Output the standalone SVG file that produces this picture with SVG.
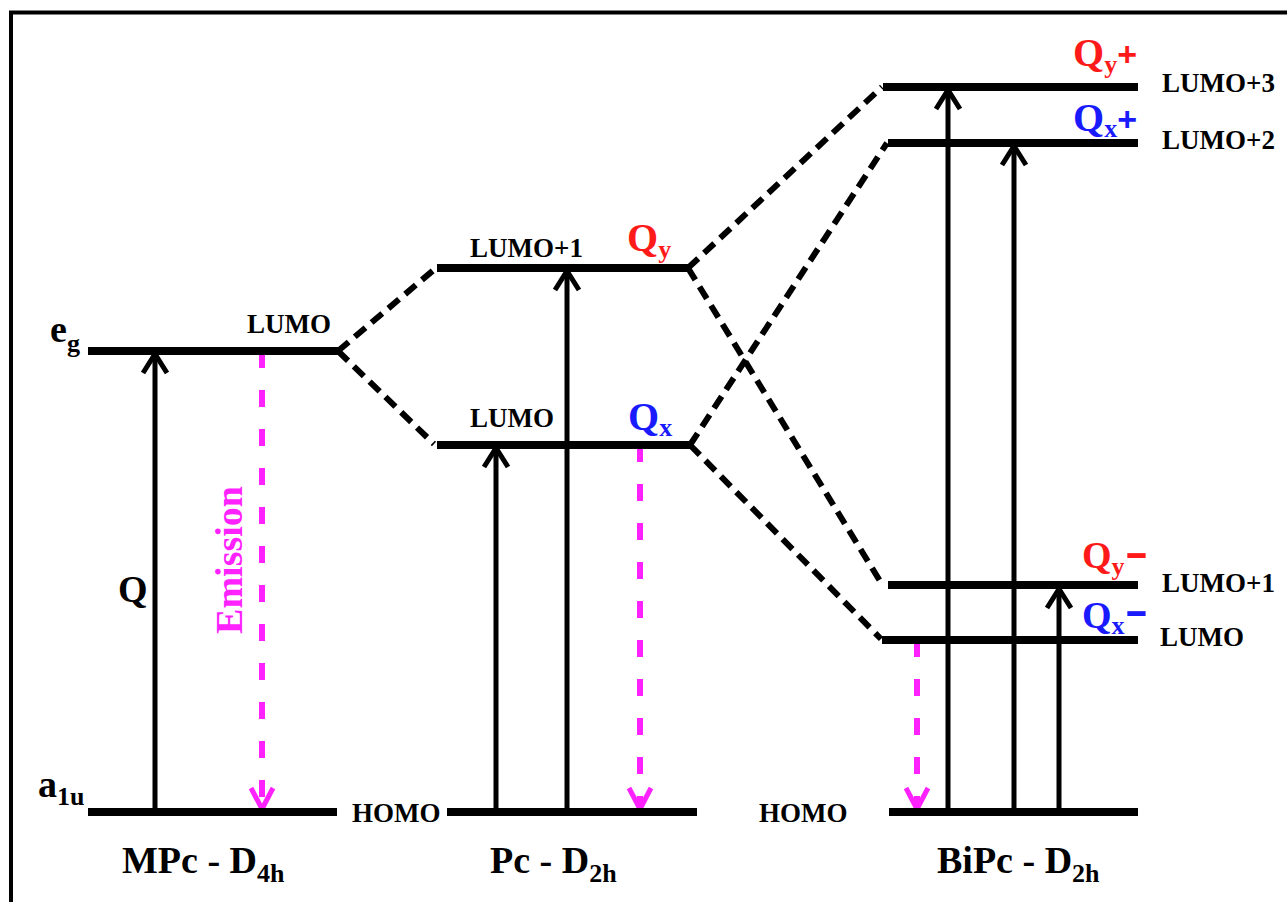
<svg xmlns="http://www.w3.org/2000/svg" width="1287" height="902" viewBox="0 0 1287 902">
<style>
.t{font-family:"Liberation Serif","Times New Roman",serif;font-weight:bold;fill:#000}
.s{font-size:27px}
.big{font-size:38px}
.q{font-size:40px}
.sub{font-size:26px}
.red{fill:#ff1a1a}
.blue{fill:#1a1aff}
.mag{fill:#ff22ff}
.lvl{stroke:#000;stroke-width:8;fill:none}
.dash{stroke:#000;stroke-width:6;stroke-dasharray:14 8;fill:none}
.arr{stroke:#000;stroke-width:5;fill:none;marker-end:url(#ah)}
.em{stroke:#ff22ff;stroke-width:6;stroke-dasharray:17 22;fill:none;marker-end:url(#mh)}
.dsh{font-family:"Liberation Sans",Arial,sans-serif;font-weight:bold}
</style>
<defs>
<marker id="ah" markerUnits="userSpaceOnUse" markerWidth="50" markerHeight="50" viewBox="-25 -25 50 50" refX="0" refY="0" orient="auto" overflow="visible">
<path d="M-20,-12 L-1,0 L-20,12" fill="none" stroke="#000" stroke-width="5"/>
</marker>
<marker id="mh" markerUnits="userSpaceOnUse" markerWidth="50" markerHeight="50" viewBox="-25 -25 50 50" refX="0" refY="0" orient="auto" overflow="visible">
<path d="M-22,-11 L-1,0 L-22,11" fill="none" stroke="#ff22ff" stroke-width="5"/>
</marker>
</defs>
<rect x="0" y="0" width="1287" height="902" fill="#fff"/>
<path d="M11,902 V12.5 H1287" fill="none" stroke="#000" stroke-width="4"/>

<g id="connectors">
<path class="dash" d="M338,351 L436,268"/>
<path class="dash" d="M338,351 L434,444"/>
<path class="dash" d="M688,268 L882,87"/>
<path class="dash" d="M690,445 L887,143"/>
<path class="dash" d="M688,268 L880,581"/>
<path class="dash" d="M690,445 L881,639"/>
<line class="arr" x1="155" y1="812" x2="155" y2="353"/>
<line class="em" x1="262" y1="351" x2="262" y2="810"/>
<line class="arr" x1="496" y1="812" x2="496" y2="447"/>
<line class="arr" x1="567" y1="812" x2="567" y2="270"/>
<line class="em" x1="640" y1="445" x2="640" y2="810"/>
<line class="arr" x1="948" y1="812" x2="948" y2="89"/>
<line class="arr" x1="1014" y1="812" x2="1014" y2="145"/>
<line class="arr" x1="1059" y1="812" x2="1059" y2="588"/>
<line class="em" x1="917" y1="640" x2="917" y2="810"/>
</g>

<g id="mpc-eg">
<line class="lvl" x1="88" y1="351" x2="338" y2="351"/>
<text class="t big" x="50" y="342">e<tspan class="sub" dy="10">g</tspan></text>
<text class="t s" x="247" y="333">LUMO</text>
</g>
<g id="mpc-a1u">
<line class="lvl" x1="88" y1="812" x2="337" y2="812"/>
<text class="t big" x="38" y="797">a<tspan class="sub" dy="8">1u</tspan></text>
</g>
<g id="mpc-labels">
<text class="t big" x="118" y="602">Q</text>
<text class="t big mag" transform="translate(242,560) rotate(-90)" text-anchor="middle">Emission</text>
<text class="t big" x="122" y="873">MPc - D<tspan class="sub" dy="9">4h</tspan></text>
</g>

<g id="pc-lumo1">
<line class="lvl" x1="437" y1="268" x2="688" y2="268"/>
<text class="t s" x="470" y="257">LUMO+1</text>
<text class="t q red" x="627" y="251">Q<tspan class="sub" dy="7">y</tspan></text>
</g>
<g id="pc-lumo">
<line class="lvl" x1="437" y1="445" x2="690" y2="445"/>
<text class="t s" x="470" y="427">LUMO</text>
<text class="t q blue" x="628" y="430">Q<tspan class="sub" dy="6">x</tspan></text>
</g>
<g id="pc-homo">
<line class="lvl" x1="447" y1="812" x2="697" y2="812"/>
<text class="t s" x="352" y="822">HOMO</text>
<text class="t big" x="490" y="873">Pc - D<tspan class="sub" dy="9">2h</tspan></text>
</g>

<g id="bipc-lumo3">
<line class="lvl" x1="883" y1="87" x2="1138" y2="87"/>
<text class="t s" x="1162" y="92">LUMO+3</text>
<text class="t q red" x="1073" y="66">Q<tspan class="sub" dy="7">y</tspan><tspan class="dsh" font-size="34" dy="-7">+</tspan></text>
</g>
<g id="bipc-lumo2">
<line class="lvl" x1="888" y1="143" x2="1138" y2="143"/>
<text class="t s" x="1162" y="149">LUMO+2</text>
<text class="t q blue" x="1073" y="131">Q<tspan class="sub" dy="6">x</tspan><tspan class="dsh" font-size="34" dy="-6">+</tspan></text>
</g>
<g id="bipc-lumo1">
<line class="lvl" x1="888" y1="585" x2="1138" y2="585"/>
<text class="t s" x="1162" y="592">LUMO+1</text>
<text class="t big red" x="1082" y="568">Q<tspan class="sub" dy="7">y</tspan><tspan class="dsh" font-size="40" dy="-9" textLength="24" lengthAdjust="spacingAndGlyphs">-</tspan></text>
</g>
<g id="bipc-lumo">
<line class="lvl" x1="882" y1="640" x2="1138" y2="640"/>
<text class="t s" x="1160" y="646">LUMO</text>
<text class="t big blue" x="1082" y="628">Q<tspan class="sub" dy="6">x</tspan><tspan class="dsh" font-size="40" dy="-10" textLength="24" lengthAdjust="spacingAndGlyphs">-</tspan></text>
</g>
<g id="bipc-homo">
<line class="lvl" x1="889" y1="812" x2="1138" y2="812"/>
<text class="t s" x="759" y="822">HOMO</text>
<text class="t big" x="937" y="873">BiPc - D<tspan class="sub" dy="9">2h</tspan></text>
</g>
</svg>
